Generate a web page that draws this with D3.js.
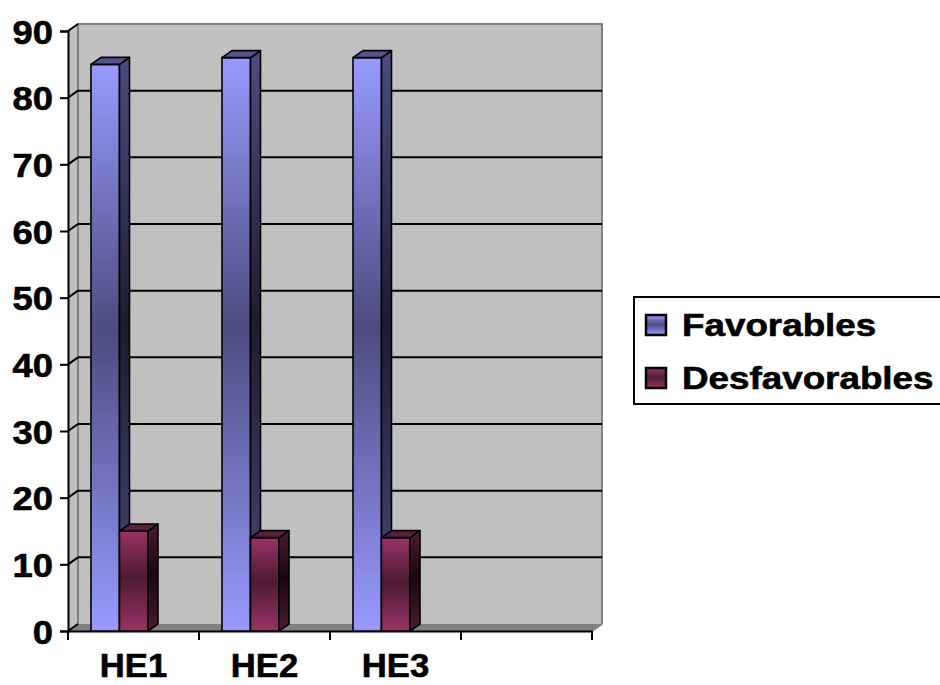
<!DOCTYPE html>
<html>
<head>
<meta charset="utf-8">
<script src="https://cdn.jsdelivr.net/npm/d3@7"></script>
<style>
  html, body { margin: 0; padding: 0; background: #ffffff; }
  svg { display: block; }
  text { font-family: "Liberation Sans", Arial, sans-serif; font-weight: bold; fill: #000; stroke: #000; stroke-width: 0.6px; }
</style>
</head>
<body>
<svg id="chart" width="940" height="685"></svg>
<script>
// Chart data
const categories = ["HE1", "HE2", "HE3", ""];
const seriesNames = ["Favorables", "Desfavorables"];
const favorables = [85, 86, 86];
const desfavorables = [15, 14, 14];
const yTicks = [0, 10, 20, 30, 40, 50, 60, 70, 80, 90];

const seriesValues = [favorables, desfavorables];

const svg = d3.select("#chart");
const defs = svg.append("defs");

// 3-D depth offset of the plot box
const DX = 10, DY = -7;

const x = d3.scaleBand().domain(categories).range([68, 592]);
const y = d3.scaleLinear().domain([0, 90]).range([631, 31]);
// position of each series' column inside its category band
const sx = d3.scaleBand().domain(seriesNames).range([23, 80]).padding(0);

// Shaded fills: light at the ends, dark through the middle
const palette = [
  { front: ["#9999ff", "#4c4c80"], side: ["#4c4c80", "#1c1c30"], top: "#55558c" },
  { front: ["#993366", "#4d1a33"], side: ["#4d1a33", "#1a0610"], top: "#5a1f3c" }
];
function gradient(id, c0, c1) {
  const g = defs.append("linearGradient").attr("id", id)
    .attr("x1", 0).attr("y1", 0).attr("x2", 0).attr("y2", 1);
  g.append("stop").attr("offset", "0%").attr("stop-color", c0);
  g.append("stop").attr("offset", "47%").attr("stop-color", c1);
  g.append("stop").attr("offset", "100%").attr("stop-color", c0);
}
palette.forEach((p, i) => {
  gradient("front" + i, p.front[0], p.front[1]);
  gradient("side" + i, p.side[0], p.side[1]);
});

const y0 = y(0), yTop = y(90);
const xL = x.range()[0], xR = x.range()[1];

// Left side wall
svg.append("polygon")
  .attr("points", [[xL, yTop], [xL + DX, yTop + DY], [xL + DX, y0 + DY], [xL, y0]].join(" "))
  .attr("fill", "#c0c0c0");
// Back wall
svg.append("rect")
  .attr("x", xL + DX).attr("y", yTop + DY)
  .attr("width", xR - xL).attr("height", y0 - yTop)
  .attr("fill", "#c0c0c0");
// Floor
svg.append("polygon")
  .attr("points", [[xL, y0], [xL + DX, y0 + DY], [xR + DX, y0 + DY], [xR, y0]].join(" "))
  .attr("fill", "#808080");
// Back wall border
svg.append("path")
  .attr("d", `M${xL + DX},${y0 + DY}V${yTop + DY}H${xR + DX}V${y0 + DY}`)
  .attr("fill", "none").attr("stroke", "#808080").attr("stroke-width", 2);
svg.append("line")
  .attr("x1", xR + DX).attr("y1", y0 + DY).attr("x2", xR).attr("y2", y0)
  .attr("stroke", "#808080").attr("stroke-width", 2);

// Gridlines on the back wall and their slanted links on the side wall
const grid = yTicks.filter(t => t > 0 && t < 90);
svg.append("g").selectAll("line").data(grid).join("line")
  .attr("x1", xL + DX).attr("x2", xR + DX)
  .attr("y1", d => y(d) + DY).attr("y2", d => y(d) + DY)
  .attr("stroke", "#000").attr("stroke-width", 2);
svg.append("g").selectAll("line").data(yTicks).join("line")
  .attr("x1", xL).attr("x2", xL + DX)
  .attr("y1", d => y(d)).attr("y2", d => y(d) + DY)
  .attr("stroke", "#000").attr("stroke-width", 2);

// Axes
const yAxis = d3.axisLeft(y).tickValues(yTicks).tickSize(8).tickPadding(8);
const yg = svg.append("g").attr("transform", `translate(${xL},0)`).call(yAxis);
yg.select(".domain").attr("stroke", "#000").attr("stroke-width", 2);
yg.selectAll(".tick line").attr("stroke", "#000").attr("stroke-width", 2);
yg.selectAll(".tick text")
  .attr("font-size", 34).attr("font-family", null)
  .attr("x", 0).attr("dy", "0.36em")
  .attr("transform", "translate(-15,0) scale(1.07,1)");

const xAxis = d3.axisBottom(x).tickSize(0).tickPadding(0).tickFormat(d => d);
const xg = svg.append("g").attr("transform", `translate(0,${y0})`).call(xAxis);
xg.select(".domain").attr("stroke", "#000").attr("stroke-width", 2);
xg.selectAll(".tick text")
  .attr("font-size", 33).attr("font-family", null)
  .attr("x", 0).attr("y", 46).attr("dy", 0)
  .attr("transform", "scale(1.05,1)");
// category boundary ticks
const bounds = categories.map(c => x(c)).concat([xR]);
xg.append("g").selectAll("line").data(bounds).join("line")
  .attr("x1", d => d).attr("x2", d => d)
  .attr("y1", 0).attr("y2", 9)
  .attr("stroke", "#000").attr("stroke-width", 2);

// Columns
const bars = svg.append("g");
categories.forEach((cat, ci) => {
  seriesNames.forEach((s, si) => {
    const v = seriesValues[si][ci];
    if (v === undefined) return;
    const bx = x(cat) + sx(s);
    const bw = sx.bandwidth();
    const by = y(v);
    const g = bars.append("g")
      .attr("stroke", "#000").attr("stroke-width", 1.6).attr("stroke-linejoin", "round");
    g.append("rect")
      .attr("x", bx).attr("y", by).attr("width", bw).attr("height", y0 - by)
      .attr("fill", `url(#front${si})`);
    g.append("polygon")
      .attr("points", [[bx + bw, by], [bx + bw + DX, by + DY], [bx + bw + DX, y0 + DY], [bx + bw, y0]].join(" "))
      .attr("fill", `url(#side${si})`);
    g.append("polygon")
      .attr("points", [[bx, by], [bx + DX, by + DY], [bx + bw + DX, by + DY], [bx + bw, by]].join(" "))
      .attr("fill", palette[si].top);
  });
});

// Legend
const lg = svg.append("g");
lg.append("rect")
  .attr("x", 634).attr("y", 297).attr("width", 320).attr("height", 107)
  .attr("fill", "#fff").attr("stroke", "#000").attr("stroke-width", 2);
seriesNames.forEach((s, i) => {
  const ly = 315 + i * 53;
  lg.append("rect")
    .attr("x", 646).attr("y", ly).attr("width", 20).attr("height", 20)
    .attr("fill", `url(#front${i})`).attr("stroke", "#000").attr("stroke-width", 2.5);
  lg.append("text")
    .attr("transform", `translate(682,${ly + 21}) scale(1.15,1)`)
    .attr("font-size", 32)
    .text(s);
});
</script>
</body>
</html>
